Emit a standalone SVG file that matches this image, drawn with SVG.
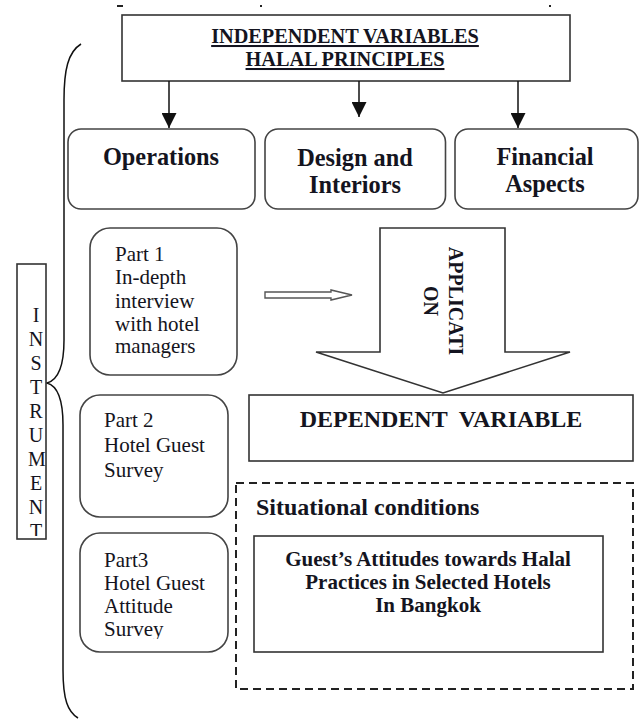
<svg xmlns="http://www.w3.org/2000/svg" width="644" height="719" viewBox="0 0 644 719">
<style>
  .box{fill:#fff;stroke:#333;stroke-width:1.6}
  .rbox{fill:#fff;stroke:#444;stroke-width:1.6}
  .t{font-family:'Liberation Serif','DejaVu Serif',serif;fill:#141420}
  .b{font-weight:bold}
  .line{stroke:#111;stroke-width:1.5;fill:none}
</style>
<defs>
  <marker id="ah" markerWidth="15" markerHeight="15" refX="15" refY="7.5" orient="auto" markerUnits="userSpaceOnUse">
    <path d="M0,0 L15,7.5 L0,15 Z" fill="#111"/>
  </marker>
  <clipPath id="clipInst"><rect x="17" y="264" width="40" height="272"/></clipPath>
  <clipPath id="clipP3"><rect x="80" y="540" width="148" height="99"/></clipPath>
</defs>

<g id="marks" fill="#222">
  <rect x="117" y="5" width="6" height="2"/>
  <rect x="260" y="5" width="2" height="2"/>
  <rect x="549" y="5" width="2" height="2"/>
</g>

<g id="brace">
  <path class="line" stroke="#333" d="M81,44 C68,52 64,70 64,100 L64,340 C64,365 58,380 47,383 C58,386 63,400 63,425 L63,670 C63,700 68,712 78,718"/>
</g>

<g id="independent">
  <rect class="box" x="122" y="15" width="448" height="66"/>
  <text class="t b" x="345" y="43" font-size="20.3" text-anchor="middle" text-decoration="underline">INDEPENDENT VARIABLES</text>
  <text class="t b" x="345" y="66" font-size="20.3" text-anchor="middle" text-decoration="underline">HALAL PRINCIPLES</text>
</g>

<g id="operations">
  <rect class="rbox" x="68" y="129" width="187" height="80" rx="13"/>
  <text class="t b" x="161" y="165" font-size="24.3" text-anchor="middle">Operations</text>
</g>
<g id="design">
  <rect class="rbox" x="265" y="129" width="180.5" height="80" rx="13"/>
  <text class="t b" x="355" y="166" font-size="24.3" text-anchor="middle">Design and</text>
  <text class="t b" x="355" y="193" font-size="24.3" text-anchor="middle">Interiors</text>
</g>
<g id="financial">
  <rect class="rbox" x="455" y="129" width="183" height="80" rx="13"/>
  <text class="t b" x="545" y="165" font-size="24.3" text-anchor="middle">Financial</text>
  <text class="t b" x="545" y="192" font-size="24.3" text-anchor="middle">Aspects</text>
</g>

<g id="instrument">
  <rect class="box" x="17" y="264" width="29" height="275"/>
  <text class="t" font-size="20" text-anchor="middle" clip-path="url(#clipInst)"><tspan x="36" y="322">I</tspan><tspan x="36" y="346">N</tspan><tspan x="36" y="370">S</tspan><tspan x="36" y="394">T</tspan><tspan x="36" y="418">R</tspan><tspan x="36" y="442">U</tspan><tspan x="37" y="466">M</tspan><tspan x="36" y="490">E</tspan><tspan x="36" y="514">N</tspan><tspan x="36" y="538">T</tspan></text>
</g>

<g id="part1">
  <rect class="rbox" x="90" y="228" width="147" height="147" rx="20"/>
  <text class="t" font-size="21" x="115" y="261">Part 1</text>
  <text class="t" font-size="21" x="115" y="284">In-depth</text>
  <text class="t" font-size="21" x="115" y="308">interview</text>
  <text class="t" font-size="21" x="115" y="331">with hotel</text>
  <text class="t" font-size="21" x="115" y="353">managers</text>
</g>
<g id="part2">
  <rect class="rbox" x="80" y="395" width="148" height="122" rx="20"/>
  <text class="t" font-size="21" x="104" y="427">Part 2</text>
  <text class="t" font-size="21" x="104" y="452">Hotel Guest</text>
  <text class="t" font-size="21" x="104" y="477">Survey</text>
</g>
<g id="part3">
  <rect class="rbox" x="80" y="533" width="148" height="119" rx="20"/>
  <text class="t" font-size="21" x="104" y="567">Part3</text>
  <text class="t" font-size="21" x="104" y="590">Hotel Guest</text>
  <text class="t" font-size="21" x="104" y="613">Attitude</text>
  <text class="t" font-size="21" x="104" y="636" clip-path="url(#clipP3)">Survey</text>
</g>

<g id="application">
  <polygon points="380,228 505,228 505,352 570,352 443,393 316,352 380,352" fill="#fff" stroke="#333" stroke-width="1.6"/>
  <text class="t b" font-size="20" text-anchor="middle" transform="translate(449,301) rotate(90)"><tspan x="0" y="0">APPLICATI</tspan><tspan x="0" y="25">ON</tspan></text>
</g>

<g id="dependent">
  <rect class="box" x="249" y="395" width="384" height="66"/>
  <text class="t b" font-size="24" x="441" y="427" text-anchor="middle" xml:space="preserve">DEPENDENT  VARIABLE</text>
</g>

<g id="situational">
  <rect x="236" y="483" width="397" height="206" fill="none" stroke="#222" stroke-width="2" stroke-dasharray="8 5"/>
  <text class="t b" font-size="24" x="256" y="515">Situational conditions</text>
</g>
<g id="attitudes">
  <rect class="box" x="254" y="536" width="349" height="116"/>
  <text class="t b" font-size="21" x="428" y="566" text-anchor="middle">Guest’s Attitudes towards Halal</text>
  <text class="t b" font-size="21" x="428" y="589" text-anchor="middle">Practices in Selected Hotels</text>
  <text class="t b" font-size="21" x="428" y="612" text-anchor="middle">In Bangkok</text>
</g>

<g id="connectors">
  <line class="line" x1="169" y1="81" x2="169" y2="128" marker-end="url(#ah)"/>
  <line class="line" x1="359" y1="81" x2="359" y2="117" marker-end="url(#ah)"/>
  <line class="line" x1="518" y1="81" x2="518" y2="128" marker-end="url(#ah)"/>
  <polygon points="265,292 331,292 331,290 352,295 331,300 331,298 265,298" fill="#fff" stroke="#555" stroke-width="1.4"/>
</g>
</svg>
